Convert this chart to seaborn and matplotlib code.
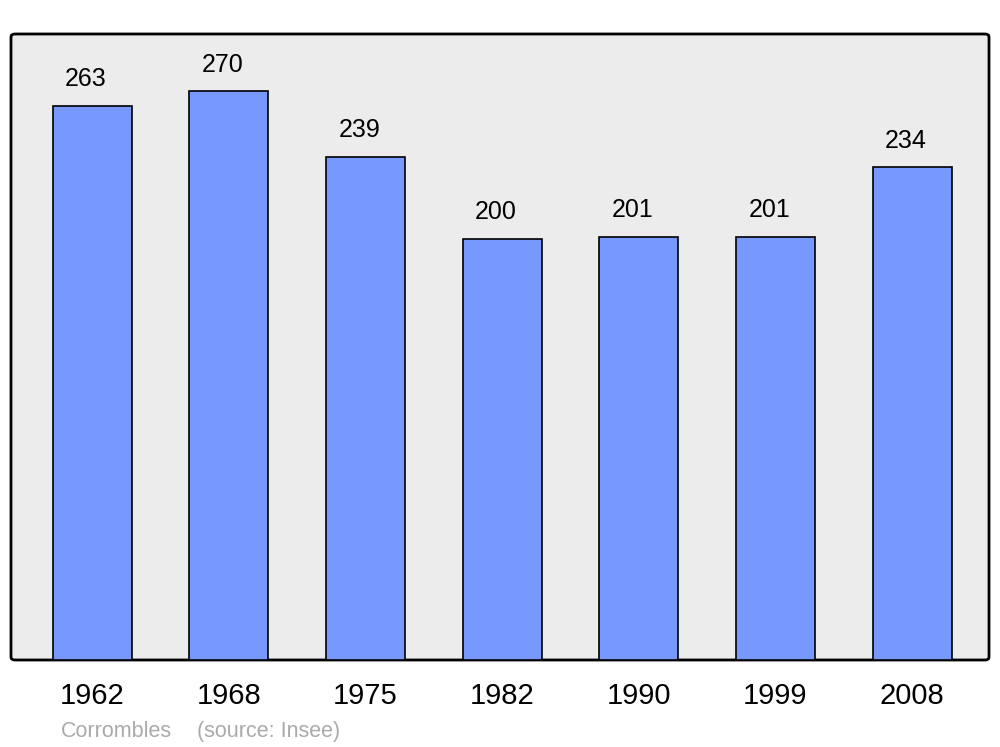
import matplotlib
matplotlib.use('Agg')
import matplotlib.pyplot as plt
import seaborn as sns
from matplotlib.patches import FancyBboxPatch

# Population de Corrombles (source: Insee)
annees = ['1962', '1968', '1975', '1982', '1990', '1999', '2008']
population = [263, 270, 239, 200, 201, 201, 234]
commune = 'Corrombles'
source = '(source: Insee)'

sns.set_theme(style='white')
plt.rcParams['font.family'] = ['Liberation Sans', 'DejaVu Sans']

fig = plt.figure(figsize=(10, 7.47), dpi=100)
ax = fig.add_axes([0.011, 87 / 747, 0.978, 626 / 747])
ax.set_zorder(2)

# fond gris avec coins arrondis
fond = FancyBboxPatch((0.011, 87 / 747), 0.978, 626 / 747,
                      boxstyle='round,pad=0,rounding_size=0.004',
                      transform=fig.transFigure, facecolor='#ececec',
                      edgecolor='black', linewidth=2, zorder=0)
fig.patches.append(fond)
ax.patch.set_visible(False)

sns.barplot(x=annees, y=population, color='#7799ff', saturation=1,
            width=0.578, edgecolor='black', linewidth=1.2, ax=ax)

# valeurs au-dessus des colonnes (un peu décalées à gauche comme l'original)
for cont in ax.containers:
    etiquettes = ax.bar_label(cont, fontsize=18, padding=10.5, color='black')
    for et in etiquettes:
        et.xyann = (-4.3, 10.5)

ax.set_xlim(-0.593, 6.563)
ax.set_ylim(0, 297.2)
ax.set_yticks([])
ax.set_xlabel('')
ax.set_ylabel('')
ax.tick_params(axis='x', length=0, pad=16, labelsize=21, colors='black')
for s in ax.spines.values():
    s.set_visible(False)

fig.text(0.061, 10 / 747, commune, color='#aaaaaa', fontsize=15.5, va='baseline')
fig.text(0.197, 10 / 747, source, color='#aaaaaa', fontsize=15.5, va='baseline')

fig.savefig('out.png', dpi=100)
